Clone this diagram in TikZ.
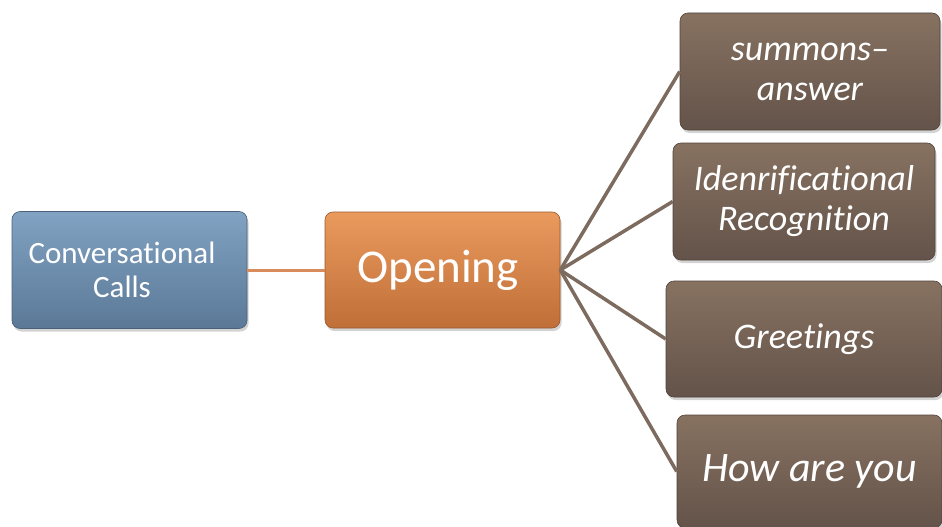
\documentclass[tikz,border=0pt]{standalone}
\usepackage{fontspec}
\setmainfont[Ligatures=NoCommon]{Carlito}
\usetikzlibrary{shadows}
\definecolor{bluetop}{HTML}{81A2C2}
\definecolor{bluebot}{HTML}{5B7997}
\definecolor{orgtop}{HTML}{EB9A5E}
\definecolor{orgbot}{HTML}{BF6F37}
\definecolor{brntop}{HTML}{877261}
\definecolor{brnbot}{HTML}{64534A}
\definecolor{orgline}{HTML}{D98B5C}
\definecolor{brnline}{HTML}{7D6B5F}
\tikzset{
  x=1pt, y=-1pt,
  boxbase/.style={rounded corners=8pt, text=white, align=center, inner sep=0pt,
    drop shadow={opacity=0.35, shadow xshift=1.5pt, shadow yshift=-3pt}},
  bluebox/.style={boxbase, top color=bluetop, bottom color=bluebot, draw=bluebot!80!black, line width=0.6pt},
  orgbox/.style={boxbase, top color=orgtop, bottom color=orgbot, draw=orgbot!80!black, line width=0.6pt},
  brnbox/.style={boxbase, top color=brntop, bottom color=brnbot, draw=brnbot!80!black, line width=0.6pt, font=\itshape\fontsize{36}{40}\selectfont},
  whitetext/.style={text=white, align=center, inner sep=0pt},
  orglink/.style={draw=orgline, line width=3pt},
  brnlink/.style={draw=brnline, line width=3.5pt}
}
\begin{document}
\begin{tikzpicture}
\useasboundingbox (0,0) rectangle (942,527);

% root and opening
\node[bluebox, minimum width=235pt, minimum height=117pt] (cc) at (129.5,270) {};
\node[whitetext, font=\fontsize{31}{34.5}\selectfont] (cctext) at (122,270) {Conversational\\Calls};
\node[orgbox, minimum width=235pt, minimum height=116pt] (op) at (442.5,270) {};
\node[whitetext, font=\fontsize{47}{52}\selectfont] (optext) at (438,270) {Opening};

% opening parts
\node[brnbox, minimum width=260pt, minimum height=117pt] (sa) at (810,71.5) {summons–\\answer};
\node[brnbox, minimum width=262pt, minimum height=117pt] (ir) at (804,201.5) {Idenrificational\\Recognition};
\node[brnbox, minimum width=276pt, minimum height=116pt] (gr) at (804,339) {Greetings};
\node[brnbox, minimum width=265pt, minimum height=113pt, font=\itshape\fontsize{42}{46}\selectfont]
  (hy) at (809.5,471.5) {How are you};

% connectors
\draw[orglink] (cc.east) -- (op.west);
\draw[brnlink] (op.east) -- (sa.west);
\draw[brnlink] (op.east) -- (ir.west);
\draw[brnlink] (op.east) -- (gr.west);
\draw[brnlink] (op.east) -- (hy.west);
\end{tikzpicture}
\end{document}
